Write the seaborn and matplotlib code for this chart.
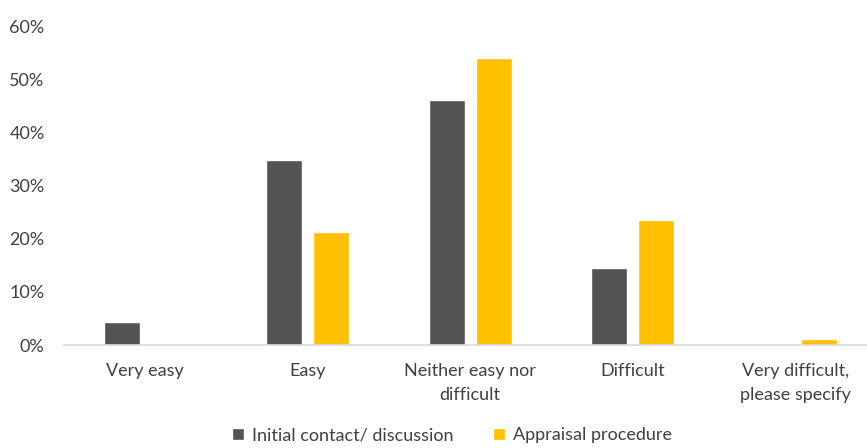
import pandas as pd
import matplotlib.pyplot as plt
import seaborn as sns
from matplotlib.ticker import PercentFormatter

# data
categories = ['Very easy', 'Easy', 'Neither easy nor\ndifficult', 'Difficult', 'Very difficult,\nplease specify']
initial_contact = [4.4, 34.8, 46.1, 14.5, 0.0]
appraisal = [0.0, 21.2, 53.9, 23.6, 1.1]
series_names = ['Initial contact/ discussion', 'Appraisal procedure']
colors = ['#535353', '#FFC000']

df = pd.DataFrame({
    'category': categories * 2,
    'value': initial_contact + appraisal,
    'series': [series_names[0]] * len(categories) + [series_names[1]] * len(categories),
})

sns.set_style('white')
plt.rcParams['font.family'] = ['Lato', 'DejaVu Sans']
text_col = '#404040'

fig = plt.figure(figsize=(8.67, 4.48), dpi=100)
ax = fig.add_axes([0.0738, 0.2299, 0.937, 0.712])

sns.barplot(data=df, x='category', y='value', hue='series', palette=colors,
            width=0.578, gap=0.234, order=categories, hue_order=series_names,
            saturation=1, ax=ax)

ax.set_ylim(0, 60)
ax.set_xlim(-0.5, 4.5)
ax.set_yticks(range(0, 61, 10))
ax.yaxis.set_major_formatter(PercentFormatter(decimals=0))
ax.set_xlabel('')
ax.set_ylabel('')

for s in ['top', 'right', 'left']:
    ax.spines[s].set_visible(False)
ax.spines['bottom'].set_color('#D9D9D9')
ax.spines['bottom'].set_linewidth(1.2)

ax.tick_params(axis='y', length=0, pad=14, labelsize=13, labelcolor=text_col)
ax.tick_params(axis='x', length=0, pad=13, labelsize=13, labelcolor=text_col)
for lbl in ax.get_xticklabels():
    lbl.set_multialignment('center')
    lbl.set_linespacing(1.6)

# legend along the bottom
handles, labels = ax.get_legend_handles_labels()
ax.get_legend().remove()
leg = fig.legend(handles, labels, loc='center', bbox_to_anchor=(0.521, 0.028),
                 ncol=2, frameon=False, fontsize=13, handlelength=0.7, handleheight=0.7,
                 handletextpad=0.4, columnspacing=2.2)
for t in leg.get_texts():
    t.set_color(text_col)

fig.savefig('out.png', dpi=100)
